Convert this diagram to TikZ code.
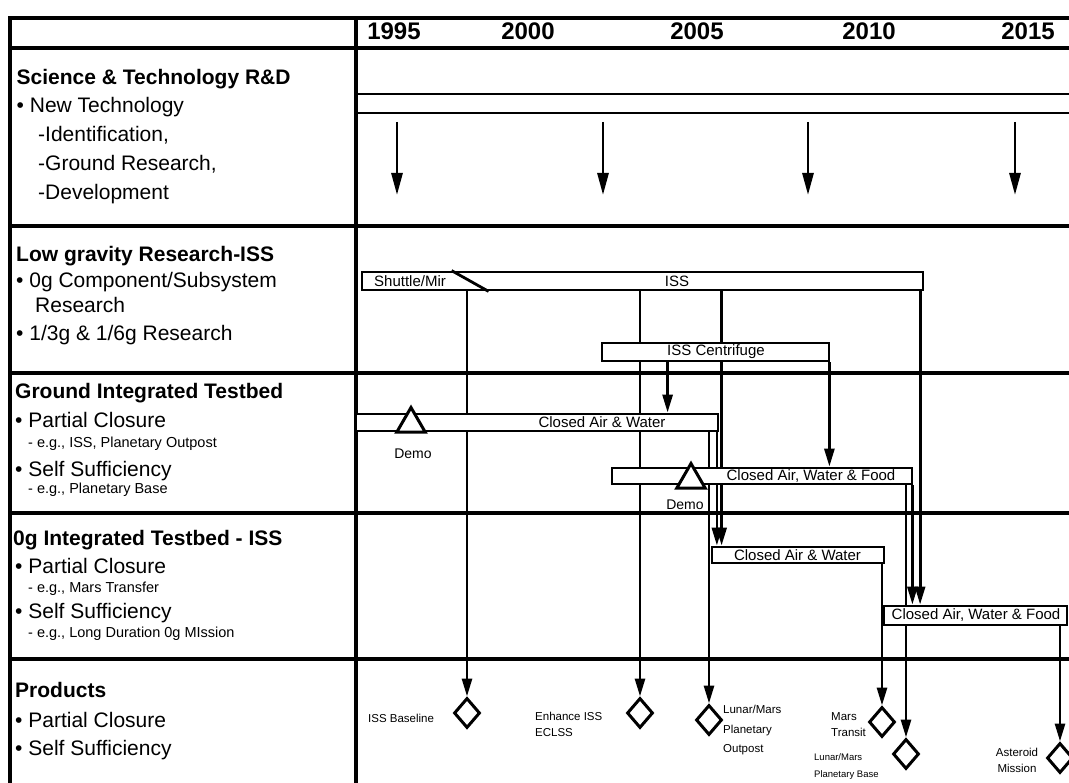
\documentclass[tikz,border=0pt]{standalone}
\usepackage{fontspec}
\setmainfont{Liberation Sans}
\usetikzlibrary{arrows.meta,shapes.geometric,backgrounds,calc}
\begin{document}
\begin{tikzpicture}[x=1pt,y=-1pt,
  every node/.style={inner sep=0pt},
  rule/.style={line width=3.4pt},
  hrule/.style={line width=4pt},
  srule/.style={line width=2.5pt},
  bar/.style={draw,fill=white,line width=2.8pt,rectangle},
  conn/.style={line width=2.8pt},
  arr/.style={conn,-{Triangle[length=18pt,width=10pt]}},
  bigarr/.style={line width=2.8pt,-{Triangle[length=22pt,width=11pt]}},
  head/.style={anchor=base west,font=\fontsize{21}{25}\selectfont\bfseries},
  item/.style={anchor=base west,font=\fontsize{21}{25}\selectfont},
  sub/.style={anchor=base west,font=\fontsize{14.5}{17}\selectfont},
  year/.style={anchor=base,font=\fontsize{24}{28}\selectfont\bfseries},
  barlabel/.style={font=\fontsize{15}{18}\selectfont},
  prodlabel/.style={font=\fontsize{11.5}{16}\selectfont,align=left},
  demo/.style={regular polygon,regular polygon sides=3,draw,fill=white,line width=3pt,minimum size=33pt},
  prod/.style={diamond,draw,fill=white,line width=3pt,minimum width=26pt,minimum height=30pt},
]
\useasboundingbox (0,0) rectangle (1069,783);

% ---------- header years
\node[year] (y1995) at (394,40) {1995};
\node[year] (y2000) at (528,40) {2000};
\node[year] (y2005) at (697,40) {2005};
\node[year] (y2010) at (869,40) {2010};
\node[year] (y2015) at (1028,40) {2015};

% ---------- left column
\node[head] (h1) at (16.5,85) {Science \& Technology R\&D};
\node[item] (h1a) at (16.5,113) {• New Technology};
\node[item] (h1b) at (38,142) {-Identification,};
\node[item] (h1c) at (38,171) {-Ground Research,};
\node[item] (h1d) at (38,200) {-Development};

\node[head] (h2) at (16,262) {Low gravity Research-ISS};
\node[item] (h2a) at (16,288) {• 0g Component/Subsystem};
\node[item] (h2b) at (35,313) {Research};
\node[item] (h2c) at (16,341) {• 1/3g \& 1/6g Research};

\node[head] (h3) at (15,399) {Ground Integrated Testbed};
\node[item] (h3a) at (15,428) {• Partial Closure};
\node[sub]  (h3b) at (28,448) {- e.g., ISS, Planetary Outpost};
\node[item] (h3c) at (15,477) {• Self Sufficiency};
\node[sub]  (h3d) at (28,494) {- e.g., Planetary Base};

\node[head] (h4) at (13,546) {0g Integrated Testbed - ISS};
\node[item] (h4a) at (15,573) {• Partial Closure};
\node[sub]  (h4b) at (28,592) {- e.g., Mars Transfer};
\node[item] (h4c) at (15,618) {• Self Sufficiency};
\node[sub]  (h4d) at (28,637) {- e.g., Long Duration 0g MIssion};

\node[head] (h5) at (15,697) {Products};
\node[item] (h5a) at (15,727) {• Partial Closure};
\node[item] (h5b) at (15,755) {• Self Sufficiency};

% ---------- bars
\node[bar,minimum width=561pt,minimum height=18pt] (iss) at (642.5,281) {};
\node[bar,minimum width=227pt,minimum height=18pt] (cent) at (715.5,352) {};
\node[bar,minimum width=362pt,minimum height=17pt] (gcaw) at (537,422.5) {};
\node[bar,minimum width=300pt,minimum height=16pt] (gcawf) at (762,476) {};
\node[bar,minimum width=172pt,minimum height=16pt] (ocaw) at (798,555) {};
\node[bar,minimum width=183pt,minimum height=19pt] (ocawf) at (975.5,615.5) {};
\draw[line width=2.8pt] ([xshift=91pt]iss.north west) -- ([xshift=128pt]iss.south west);

\node[barlabel] (tShuttle) at (410,281) {Shuttle/Mir};
\node[barlabel] (tISS) at (677,281) {ISS};
\node[barlabel] (tCent) at (716,352) {ISS Centrifuge};
\node[barlabel] (tGcaw) at (602,422.5) {Closed Air \& Water};
\node[barlabel] (tGcawf) at (811,476) {Closed Air, Water \& Food};
\node[barlabel] (tOcaw) at (797.5,555) {Closed Air \& Water};
\node[barlabel] (tOcawf) at (976,615.5) {Closed Air, Water \& Food};

% ---------- demos
\node[demo] (demo1) at (411,424) {};
\node[barlabel,font=\fontsize{14}{16}\selectfont] (demo1t) at (413,454) {Demo};
\node[demo] (demo2) at (691,480) {};
\node[barlabel,font=\fontsize{14}{16}\selectfont] (demo2t) at (685,505) {Demo};

% ---------- products
\node[prod] (d1) at (467,713) {};
\node[prod] (d2) at (640,713) {};
\node[prod] (d3) at (709,720) {};
\node[prod] (d4) at (882,722) {};
\node[prod] (d5) at (906,754) {};
\node[prod] (d6) at (1060,758) {};

\node[prodlabel,anchor=west] (l1) at (368,718) {ISS Baseline};
\node[prodlabel,anchor=west] (l2) at (535,724.5) {Enhance ISS\\ECLSS};
\node[prodlabel,anchor=west,font=\fontsize{11.5}{19.5}\selectfont] (l3) at (723,730.5) {Lunar/Mars\\Planetary\\Outpost};
\node[prodlabel,anchor=west] (l4) at (831,725) {Mars\\Transit};
\node[prodlabel,anchor=west,font=\fontsize{9.5}{17}\selectfont] (l5) at (814,766.5) {Lunar/Mars\\Planetary Base};
\node[prodlabel,align=center] (l6) at (1017,760) {Asteroid\\Mission};

% ---------- background: table and connectors
\begin{pgfonlayer}{background}
  \draw[rule] (10,18) -- (1075,18);
  \draw[hrule] (10,48) -- (1075,48);
  \draw[rule] (10,226) -- (1075,226);
  \draw[rule] (10,373) -- (1075,373);
  \draw[rule] (10,513) -- (1075,513);
  \draw[rule] (10,659) -- (1075,659);
  \draw[rule] (10,16.3) -- (10,790);
  \draw[rule] (356,16.3) -- (356,790);
  \draw[srule] (356,94) -- (1075,94);
  \draw[srule] (356,113) -- (1075,113);

  \coordinate (s1a) at (397,122); \coordinate (s1b) at (397,195);
  \coordinate (s2a) at (603,122); \coordinate (s2b) at (603,195);
  \coordinate (s3a) at (808,122); \coordinate (s3b) at (808,195);
  \coordinate (s4a) at (1015,122); \coordinate (s4b) at (1015,195);
  \draw[bigarr] (s1a) -- (s1b);
  \draw[bigarr] (s2a) -- (s2b);
  \draw[bigarr] (s3a) -- (s3b);
  \draw[bigarr] (s4a) -- (s4b);

  \draw[arr] (iss.south -| d1.north) -- (d1.north);
  \draw[arr] (iss.south -| d2.north) -- (d2.north);
  \path ([xshift=11pt]ocaw.north west) coordinate (c3);
  \draw[arr] (iss.south -| c3) -- (c3);
  \path ([xshift=37.5pt]ocawf.north west) coordinate (c4);
  \draw[arr] (iss.south -| c4) -- (c4);
  \path ([xshift=67pt]cent.south west) coordinate (c5);
  \draw[arr] (c5) -- (c5 |- gcaw.north);
  \path ([xshift=-1pt]cent.south east) coordinate (c6);
  \draw[arr] (c6) -- (c6 |- gcawf.north);
  \draw[arr] (gcaw.south -| d3.north) -- (d3.north);
  \path ([xshift=-2.5pt]gcaw.south east) coordinate (c8);
  \draw[arr] (c8) -- (c8 |- ocaw.north);
  \draw[arr] (gcawf.south -| d5.north) -- (d5.north);
  \path ([xshift=-1pt]gcawf.south east) coordinate (c10);
  \draw[arr] (c10) -- (c10 |- ocawf.north);
  \draw[arr] (ocaw.south -| d4.north) -- (d4.north);
  \draw[arr] (ocawf.south -| d6.north) -- (d6.north);
\end{pgfonlayer}
\end{tikzpicture}
\end{document}
